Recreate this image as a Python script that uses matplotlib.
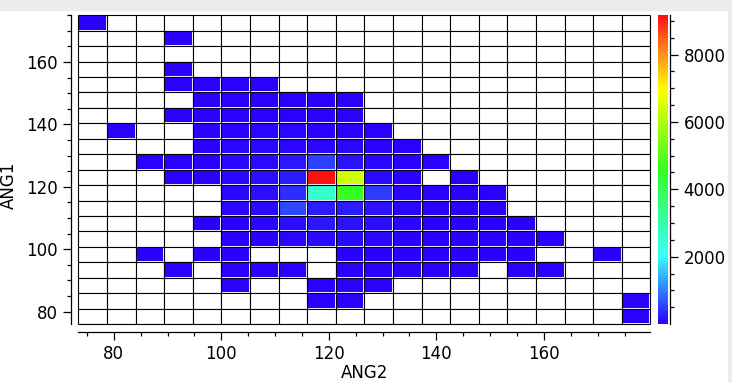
import numpy as np
import matplotlib
matplotlib.use("Agg")
import matplotlib.pyplot as plt
from matplotlib.colors import LinearSegmentedColormap, Normalize
from matplotlib.ticker import MultipleLocator
from matplotlib.patches import Rectangle

# bin ranges (20 x 20 bins)
ang2_range = (73.4, 179.8)
ang1_range = (76.0, 175.0)
n_bins = 20

# counts per cell: first row is the top one (ANG1 ~ 175), columns ANG2 low -> high
counts_rows = [
    [1, 0, 0, 0, 0, 0, 0, 0, 0, 0, 0, 0, 0, 0, 0, 0, 0, 0, 0, 0],
    [0, 0, 0, 2, 0, 0, 0, 0, 0, 0, 0, 0, 0, 0, 0, 0, 0, 0, 0, 0],
    [0, 0, 0, 0, 0, 0, 0, 0, 0, 0, 0, 0, 0, 0, 0, 0, 0, 0, 0, 0],
    [0, 0, 0, 3, 0, 0, 0, 0, 0, 0, 0, 0, 0, 0, 0, 0, 0, 0, 0, 0],
    [0, 0, 0, 4, 8, 6, 3, 0, 0, 0, 0, 0, 0, 0, 0, 0, 0, 0, 0, 0],
    [0, 0, 0, 0, 10, 14, 12, 9, 7, 5, 0, 0, 0, 0, 0, 0, 0, 0, 0, 0],
    [0, 0, 0, 2, 18, 25, 22, 20, 15, 8, 0, 0, 0, 0, 0, 0, 0, 0, 0, 0],
    [0, 1, 0, 0, 20, 35, 40, 38, 30, 22, 6, 0, 0, 0, 0, 0, 0, 0, 0, 0],
    [0, 0, 0, 0, 15, 45, 60, 70, 65, 50, 25, 5, 0, 0, 0, 0, 0, 0, 0, 0],
    [0, 0, 2, 6, 30, 60, 95, 210, 510, 160, 60, 20, 4, 0, 0, 0, 0, 0, 0, 0],
    [0, 0, 0, 3, 25, 70, 110, 240, 9150, 6400, 90, 30, 0, 3, 0, 0, 0, 0, 0, 0],
    [0, 0, 0, 0, 0, 50, 120, 380, 2600, 4600, 470, 60, 20, 8, 2, 0, 0, 0, 0, 0],
    [0, 0, 0, 0, 0, 40, 90, 590, 250, 230, 150, 50, 25, 10, 4, 0, 0, 0, 0, 0],
    [0, 0, 0, 0, 6, 30, 70, 120, 180, 170, 110, 45, 20, 12, 6, 2, 0, 0, 0, 0],
    [0, 0, 0, 0, 0, 15, 35, 60, 80, 90, 70, 35, 18, 9, 5, 3, 1, 0, 0, 0],
    [0, 0, 1, 0, 3, 6, 0, 0, 0, 30, 25, 15, 8, 5, 3, 2, 0, 0, 1, 0],
    [0, 0, 0, 1, 0, 4, 5, 3, 0, 12, 10, 6, 4, 2, 0, 1, 1, 0, 0, 0],
    [0, 0, 0, 0, 0, 2, 0, 0, 6, 5, 2, 0, 0, 0, 0, 0, 0, 0, 0, 0],
    [0, 0, 0, 0, 0, 0, 0, 0, 2, 3, 0, 0, 0, 0, 0, 0, 0, 0, 0, 1],
    [0, 0, 0, 0, 0, 0, 0, 0, 0, 0, 0, 0, 0, 0, 0, 0, 0, 0, 0, 1],
]

color_min, color_max = 1, 9165
cbar_ticks = [2000, 4000, 6000, 8000]

plt.rcParams['font.family'] = 'DejaVu Sans'
plt.rcParams['font.size'] = 12

# blue -> cyan -> green -> yellow -> red
cmap = LinearSegmentedColormap.from_list('rainbow_like', [
    (0.00, '#2a00ff'),
    (0.22, '#36ffff'),
    (0.50, '#33ff1e'),
    (0.76, '#ffff00'),
    (0.88, '#ff8c1a'),
    (1.00, '#ff1010'),
])
cmap.set_bad('white')

counts = np.flipud(np.array(counts_rows, dtype=float))
counts = np.ma.masked_where(counts == 0, counts)
xedges = np.linspace(ang2_range[0], ang2_range[1], n_bins + 1)
yedges = np.linspace(ang1_range[0], ang1_range[1], n_bins + 1)

fig = plt.figure(figsize=(7.32, 3.83), dpi=100)
# window frame strips
fig.patches.append(Rectangle((0, 1 - 10 / 383), 1, 10 / 383, transform=fig.transFigure,
                             color='#ececec', zorder=-1))
fig.patches.append(Rectangle((728 / 732, 0), 4 / 732, 1, transform=fig.transFigure,
                             color='#ececec', zorder=-1))

ax = fig.add_axes([0.1070, 0.1538, 0.7814, 0.8063])
norm = Normalize(vmin=color_min, vmax=color_max)
mesh = ax.pcolormesh(xedges, yedges, counts, cmap=cmap, norm=norm,
                     edgecolors='#f4f4ff', linewidth=1.3, zorder=2)
ax.vlines(xedges, yedges[0], yedges[-1], colors='black', lw=0.8, zorder=3, clip_on=False)
ax.hlines(yedges, xedges[0], xedges[-1], colors='black', lw=0.8, zorder=3, clip_on=False)

ax.set_xlim(xedges[0], xedges[-1])
ax.set_ylim(yedges[0], yedges[-1])

for s in ['top', 'right']:
    ax.spines[s].set_visible(False)
ax.spines['left'].set_position(('outward', 5.3))
ax.spines['bottom'].set_position(('outward', 5.5))
ax.spines['left'].set_linewidth(0.9)
ax.spines['bottom'].set_linewidth(0.9)

ax.xaxis.set_major_locator(MultipleLocator(20))
ax.xaxis.set_minor_locator(MultipleLocator(5))
ax.yaxis.set_major_locator(MultipleLocator(20))
ax.yaxis.set_minor_locator(MultipleLocator(5))
ax.tick_params(which='major', direction='out', length=6, width=0.9, pad=3.5)
ax.tick_params(which='minor', direction='out', length=3, width=0.9)

ax.set_xlabel('ANG2', labelpad=1)
ax.set_ylabel('ANG1')
ax.yaxis.set_label_coords(-0.105, 0.45)

cax = fig.add_axes([0.8993, 0.1538, 0.01366, 0.8063])
cb = fig.colorbar(mesh, cax=cax)
cb.outline.set_visible(False)
cax.spines['right'].set_visible(True)
cax.spines['right'].set_position(('outward', 1.5))
cax.spines['right'].set_linewidth(0.9)
cb.set_ticks(cbar_ticks)
cax.yaxis.set_minor_locator(MultipleLocator(500))
cax.tick_params(which='major', direction='out', length=6, width=0.9, pad=3.5)
cax.tick_params(which='minor', direction='out', length=3, width=0.9)

fig.savefig('out.png', dpi=100)
